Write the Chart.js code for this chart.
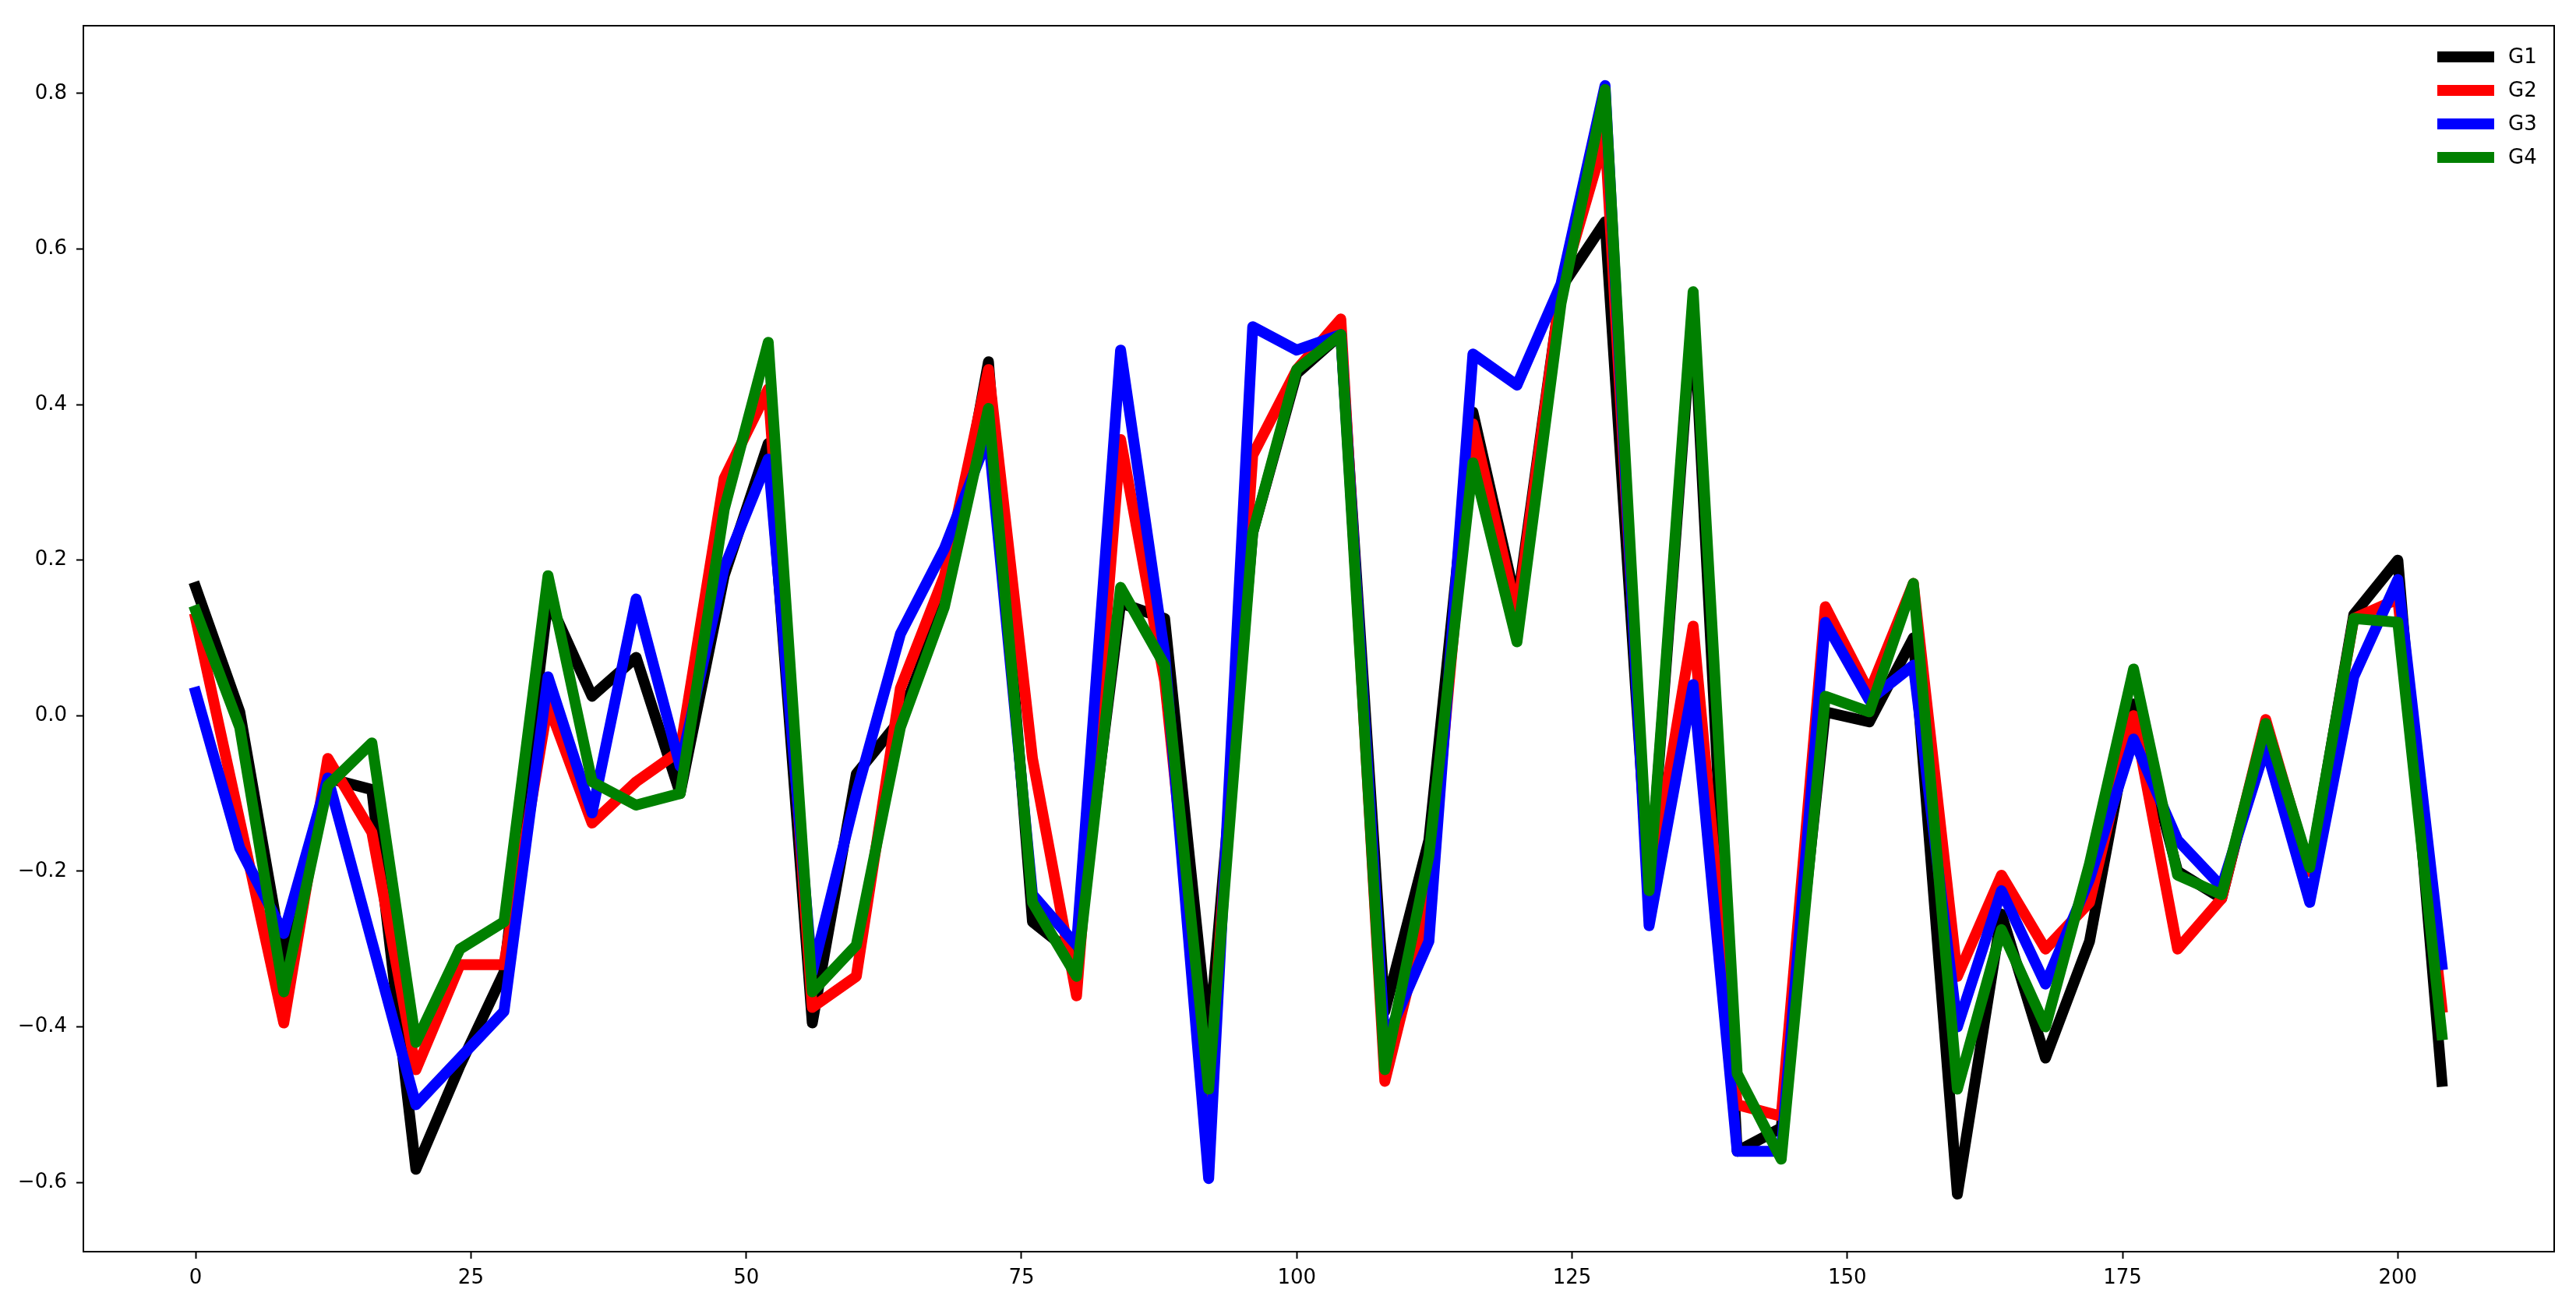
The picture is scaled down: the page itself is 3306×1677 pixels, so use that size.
<html>
<head>
  <script src="https://cdn.jsdelivr.net/npm/chart.js@4.4.0/dist/chart.umd.min.js"></script>
  <title>G1-G4</title>
  <style>
    body { margin: 0; background-color: #ffffff; }
  </style>
</head>
<body>
  <div style="width:3306px; height:1677px;">
    <canvas id="line-chart" width="3306" height="1677"></canvas>
  </div>

  <script>
    // x positions (every 4 steps)
    var xs = [0, 4, 8, 12, 16, 20, 24, 28, 32, 36, 40, 44, 48, 52, 56, 60, 64, 68, 72, 76,
              80, 84, 88, 92, 96, 100, 104, 108, 112, 116, 120, 124, 128, 132, 136, 140, 144, 148, 152, 156,
              160, 164, 168, 172, 176, 180, 184, 188, 192, 196, 200, 204];

    var g1 = [0.165, 0.005, -0.32, -0.08, -0.095, -0.583, -0.45, -0.33, 0.15, 0.025,
              0.075, -0.1, 0.18, 0.35, -0.395, -0.075, -0.005, 0.145, 0.455, -0.265,
              -0.31, 0.145, 0.125, -0.42, 0.235, 0.44, 0.49, -0.38, -0.16, 0.39,
              0.14, 0.55, 0.635, -0.23, 0.53, -0.56, -0.53, 0.005, -0.008, 0.1,
              -0.615, -0.255, -0.44, -0.29, 0.015, -0.2, -0.235, -0.01, -0.2, 0.13,
              0.2, -0.47];

    var g2 = [0.125, -0.135, -0.395, -0.055, -0.15, -0.455, -0.32, -0.32, 0.015, -0.138,
              -0.085, -0.045, 0.305, 0.42, -0.375, -0.335, 0.035, 0.18, 0.445, -0.055,
              -0.36, 0.355, 0.045, -0.5, 0.335, 0.445, 0.51, -0.47, -0.24, 0.375,
              0.13, 0.55, 0.745, -0.23, 0.115, -0.5, -0.515, 0.14, 0.03, 0.17,
              -0.335, -0.205, -0.3, -0.24, 0.0, -0.3, -0.235, -0.005, -0.2, 0.125,
              0.15, -0.375];

    var g3 = [0.03, -0.17, -0.28, -0.08, -0.29, -0.5, -0.44, -0.38, 0.05, -0.125,
              0.15, -0.065, 0.19, 0.33, -0.33, -0.1, 0.105, 0.215, 0.36, -0.23,
              -0.295, 0.47, 0.08, -0.595, 0.5, 0.47, 0.49, -0.42, -0.29, 0.465,
              0.425, 0.555, 0.81, -0.27, 0.04, -0.56, -0.56, 0.12, 0.02, 0.065,
              -0.4, -0.225, -0.345, -0.21, -0.03, -0.16, -0.22, -0.04, -0.24, 0.05,
              0.175, -0.32];

    var g4 = [0.135, -0.015, -0.355, -0.09, -0.035, -0.42, -0.3, -0.265, 0.18, -0.085,
              -0.115, -0.1, 0.265, 0.48, -0.355, -0.295, -0.015, 0.14, 0.395, -0.24,
              -0.335, 0.165, 0.065, -0.48, 0.235, 0.445, 0.49, -0.455, -0.18, 0.325,
              0.095, 0.53, 0.805, -0.225, 0.545, -0.46, -0.57, 0.025, 0.005, 0.17,
              -0.48, -0.275, -0.4, -0.19, 0.06, -0.205, -0.23, -0.01, -0.195, 0.125,
              0.12, -0.41];

    var names = ["G1", "G2", "G3", "G4"];
    var colors = ["#000000", "#ff0000", "#0000ff", "#008000"];
    var xTicks = [0, 25, 50, 75, 100, 125, 150, 175, 200];
    var yTicks = [-0.6, -0.4, -0.2, 0.0, 0.2, 0.4, 0.6, 0.8];

    var series = [g1, g2, g3, g4];
    var font = { family: "DejaVu Sans", size: 26 };

    function points(ys) {
      var pts = [];
      for (var i = 0; i < xs.length; i++) {
        pts.push({ x: xs[i], y: ys[i] });
      }
      return pts;
    }

    var datasets = [];
    for (var k = 0; k < series.length; k++) {
      datasets.push({
        label: names[k],
        data: points(series[k]),
        borderColor: colors[k],
        backgroundColor: colors[k],
        borderWidth: 14,
        borderJoinStyle: "round",
        borderCapStyle: "square",
        pointRadius: 0,
        tension: 0,
        fill: false,
        order: series.length - k   // last series on top, like matplotlib
      });
    }

    // white background + frame box + legend in the top right corner
    var boxPlugin = {
      id: "box",
      beforeDraw: function(chart) {
        var ctx = chart.ctx;
        ctx.save();
        ctx.fillStyle = "#ffffff";
        ctx.fillRect(0, 0, chart.width, chart.height);
        ctx.restore();
      },
      afterDraw: function(chart) {
        var ctx = chart.ctx;
        var a = chart.chartArea;
        ctx.save();
        ctx.strokeStyle = "#000000";
        ctx.lineWidth = 2;
        ctx.strokeRect(a.left, a.top, a.right - a.left, a.bottom - a.top);

        // legend
        ctx.font = font.size + "px " + font.family;
        ctx.textBaseline = "middle";
        ctx.textAlign = "left";
        for (var i = 0; i < names.length; i++) {
          var y = a.top + 40 + i * 43;
          ctx.strokeStyle = colors[i];
          ctx.lineWidth = 14;
          ctx.lineCap = "butt";
          ctx.beginPath();
          ctx.moveTo(a.right - 150, y);
          ctx.lineTo(a.right - 77, y);
          ctx.stroke();
          ctx.fillStyle = "#000000";
          ctx.fillText(names[i], a.right - 59, y + 1);
        }
        ctx.restore();
      }
    };

    new Chart(document.getElementById("line-chart"), {
      type: "line",
      data: { datasets: datasets },
      plugins: [boxPlugin],
      options: {
        responsive: false,
        animation: false,
        devicePixelRatio: 1,
        layout: { padding: { top: 33, right: 28, left: 0, bottom: 0 } },
        plugins: {
          legend: { display: false },
          tooltip: { enabled: false }
        },
        scales: {
          x: {
            type: "linear",
            min: -10.2,
            max: 214.2,
            afterBuildTicks: function(scale) {
              scale.ticks = xTicks.map(function(v) { return { value: v }; });
            },
            afterFit: function(scale) { scale.height = 71; },
            grid: { drawOnChartArea: false, drawTicks: true, tickLength: 9, tickWidth: 2, tickColor: "#000000" },
            border: { display: false },
            ticks: {
              color: "#000000",
              font: font,
              padding: 10,
              maxRotation: 0,
              callback: function(v) { return String(v); }
            }
          },
          y: {
            type: "linear",
            min: -0.689,
            max: 0.887,
            afterBuildTicks: function(scale) {
              scale.ticks = yTicks.map(function(v) { return { value: v }; });
            },
            afterFit: function(scale) { scale.width = 107; },
            grid: { drawOnChartArea: false, drawTicks: true, tickLength: 9, tickWidth: 2, tickColor: "#000000" },
            border: { display: false },
            ticks: {
              color: "#000000",
              font: font,
              padding: 12,
              callback: function(v) { return v.toFixed(1).replace("-", "\u2212"); }
            }
          }
        }
      }
    });
  </script>
</body>
</html>
